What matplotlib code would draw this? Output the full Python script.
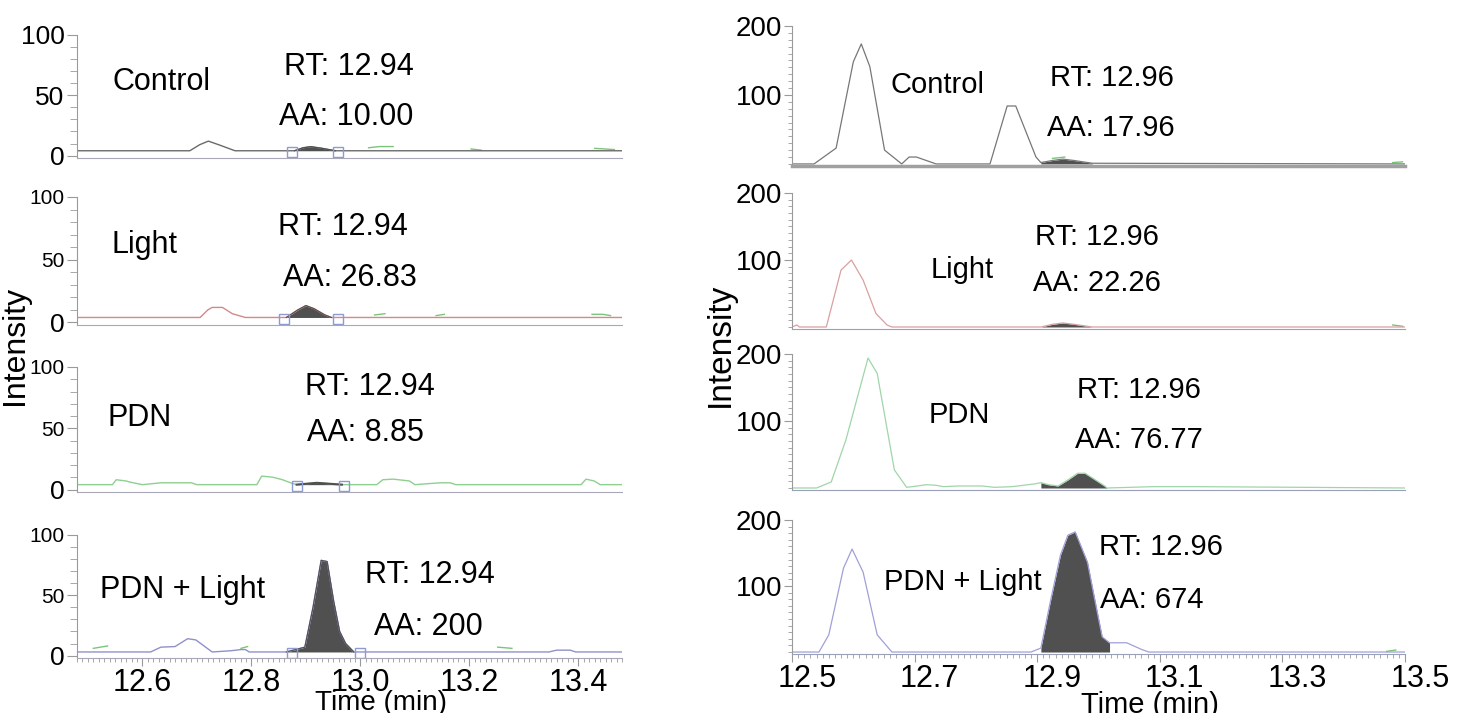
import numpy as np
import matplotlib.pyplot as plt
from matplotlib.ticker import MultipleLocator
from matplotlib.transforms import ScaledTranslation

W, H = 1463, 713
plt.rcParams['font.family'] = ['Liberation Sans', 'DejaVu Sans']
NARROW = ['Liberation Sans Narrow', 'Liberation Sans', 'DejaVu Sans']

samples = ['Control', 'Light', 'PDN', 'PDN + Light']
left_rt = ['RT: 12.94'] * 4
left_aa = ['AA: 10.00', 'AA: 26.83', 'AA: 8.85', 'AA: 200']
right_rt = ['RT: 12.96'] * 4
right_aa = ['AA: 17.96', 'AA: 22.26', 'AA: 76.77', 'AA: 674']

# ---- left chromatograms (scale 0-100) ----
l_ctrl_t = [12.48, 12.687, 12.705, 12.721, 12.74, 12.77, 12.879, 12.895, 12.909, 12.93, 12.954, 13.48]
l_ctrl_y = [4, 4, 9, 12, 9, 4, 4, 6.5, 7.4, 6, 4, 4]
l_light_t = [12.48, 12.706, 12.72, 12.728, 12.747, 12.765, 12.789, 12.864, 12.885, 12.9, 12.915,
             12.935, 12.947, 13.48]
l_light_y = [4, 4, 10, 12, 12, 7, 4, 4, 10, 13.5, 11, 6, 4, 4]
l_pdn_t = [12.48, 12.545, 12.552, 12.57, 12.578, 12.60, 12.634, 12.69, 12.70, 12.81, 12.819, 12.84,
           12.857, 12.875, 12.883, 12.92, 12.966, 13.03, 13.041, 13.06, 13.09, 13.10, 13.146, 13.165,
           13.175, 13.405, 13.414, 13.429, 13.44, 13.48]
l_pdn_y = [4, 4, 8, 7, 6, 4, 5.5, 5.5, 4, 4, 11, 10, 8, 5, 4, 5.5, 4, 4, 8, 8.5, 7, 4, 5.5, 5.5,
           4, 4, 8.5, 7, 4, 4]
l_both_t = [12.48, 12.615, 12.634, 12.66, 12.683, 12.698, 12.728, 12.762, 12.781, 12.789, 12.796,
            12.864, 12.898, 12.913, 12.928, 12.939, 12.951, 12.962, 12.973, 12.988, 13.346, 13.36,
            13.385, 13.395, 13.48]
l_both_y = [3, 3, 7, 7.5, 14, 13, 3, 4, 5, 5, 3, 3, 7, 40, 79, 78, 45, 20, 10, 3, 3, 4.5, 4.5, 3, 3]
l_base = [4, 4, 4, 3]
l_fill = [(12.879, 12.954), (12.864, 12.947), (12.883, 12.966), (12.864, 12.988)]
l_boxes = [[12.875, 12.958], [12.86, 12.958], [12.884, 12.969], [12.875, 13.0]]
l_green_t = [[[13.015, 13.035, 13.06], [13.203, 13.222], [13.43, 13.466]],
             [[13.026, 13.045], [13.139, 13.154], [13.425, 13.445, 13.459]],
             [],
             [[12.51, 12.536], [12.781, 12.793], [13.252, 13.278]]]
l_green_y = [[[6.5, 7.5, 7.5], [5.5, 4.5], [6, 5]],
             [[6, 7], [5.5, 6.5], [6.5, 6.5, 5.5]],
             [],
             [[6, 8], [6, 7.5], [7, 6]]]

# ---- right chromatograms (scale 0-200) ----
r_ctrl_t = [12.5, 12.536, 12.572, 12.6, 12.613, 12.627, 12.651, 12.679, 12.691, 12.703, 12.735,
            12.823, 12.851, 12.865, 12.898, 12.906, 12.925, 12.942, 12.96, 12.99, 13.5]
r_ctrl_y = [0, 0, 23, 148, 174, 141, 20, 0, 10, 10, 0, 0, 84, 84, 10, 2, 5, 7, 5, 1, 0]
r_light_t = [12.5, 12.508, 12.512, 12.556, 12.58, 12.588, 12.597, 12.616, 12.637, 12.655, 12.663,
             12.906, 12.925, 12.942, 12.96, 12.99, 13.5]
r_light_y = [0, 3, 0, 0, 85, 92, 100, 70, 20, 3, 0, 0, 4, 6, 4, 0, 0]
r_pdn_t = [12.5, 12.54, 12.564, 12.588, 12.624, 12.639, 12.667, 12.687, 12.705, 12.719, 12.735,
           12.747, 12.771, 12.81, 12.83, 12.859, 12.895, 12.906, 12.918, 12.934, 12.95, 12.966,
           12.978, 12.995, 13.01, 13.014, 13.09, 13.161, 13.5]
r_pdn_y = [0, 0, 9, 72, 194, 171, 27, 1, 3, 5, 4, 2, 3, 3, 1, 2, 6, 8, 5, 3, 12, 22, 22, 12, 3, 0,
           2, 2, 0]
r_both_t = [12.5, 12.544, 12.56, 12.584, 12.598, 12.616, 12.639, 12.663, 12.89, 12.906, 12.922,
            12.938, 12.95, 12.962, 12.982, 12.994, 13.006, 13.018, 13.03, 13.046, 13.07, 13.082, 13.5]
r_both_y = [0, 0, 26, 127, 156, 121, 26, 0, 0, 6, 79, 147, 177, 182, 136, 79, 23, 14, 14, 14, 4, 0, 0]
r_fill = [(12.906, 12.99), (12.906, 12.99), (12.906, 13.014), (12.906, 13.018)]
r_green_t = [[[12.925, 12.945], [13.48, 13.496]], [[13.48, 13.496]], [], [[13.47, 13.485]]]
r_green_y = [[[8, 10], [2, 3]], [[3, 1]], [], [[1, 3]]]

left_traces = [(l_ctrl_t, l_ctrl_y), (l_light_t, l_light_y), (l_pdn_t, l_pdn_y), (l_both_t, l_both_y)]
right_traces = [(r_ctrl_t, r_ctrl_y), (r_light_t, r_light_y), (r_pdn_t, r_pdn_y), (r_both_t, r_both_y)]
left_colors = ['#6a6a6a', '#d08a8a', '#8fcf8f', '#9090cc']
right_colors = ['#777777', '#d9a0a0', '#9fd6a8', '#a0a0d8']
fill_color = '#505050'
green = '#7cc47c'

# layout in pixels
left_x = (77, 622)
left_rows = [(35, 158), (197, 325), (367, 492), (535, 658)]
right_x = (792, 1405)
right_rows = [(26, 166), (193, 329), (354, 490), (520, 654)]
left_name_xy = [(162, 82), (145, 245), (140, 418), (183, 590)]
left_rt_xy = [(349, 67), (343, 227), (370, 387), (430, 575)]
left_aa_xy = [(346, 117), (350, 278), (365, 433), (428, 627)]
right_name_xy = [(938, 85), (962, 270), (959, 415), (963, 582)]
right_rt_xy = [(1112, 78), (1097, 237), (1139, 390), (1161, 547)]
right_aa_xy = [(1111, 128), (1097, 283), (1139, 440), (1152, 600)]

fig = plt.figure(figsize=(W / 100, H / 100), dpi=100)


def px_axes(xs, ys):
    return fig.add_axes([xs[0] / W, 1 - ys[1] / H, (xs[1] - xs[0]) / W, (ys[1] - ys[0]) / H])


def px_text(xy, s, **kw):
    fig.text(xy[0] / W, 1 - xy[1] / H, s, ha='center', va='center', **kw)


def style_axes(ax, spine_col):
    for s in ['top', 'right']:
        ax.spines[s].set_visible(False)
    ax.spines['left'].set_color('#9a9a9a')
    ax.spines['bottom'].set_color(spine_col)
    ax.tick_params(axis='both', which='both', direction='out', colors='#9a9a9a', labelcolor='black')


# ---- left column ----
for i in range(4):
    ax = px_axes(left_x, left_rows[i])
    t, y = np.array(left_traces[i][0]), np.array(left_traces[i][1])
    for gt, gy in zip(l_green_t[i], l_green_y[i]):
        ax.plot(gt, gy, color=green, lw=1)
    ax.plot(t, y, color=left_colors[i], lw=1)
    a, b = l_fill[i]
    m = (t >= a) & (t <= b)
    ax.fill_between(t[m], l_base[i], y[m], color=fill_color, lw=0)
    ax.plot(t[m], y[m], color=fill_color, lw=1.5 if i == 2 else 0.8)
    ax.plot(l_boxes[i], [l_base[i] - 1] * 2, 's', ms=7, mfc='none', mec='#8c9ad6', mew=1)
    ax.set_xlim(12.48, 13.48)
    ax.set_ylim(-2, 100)
    style_axes(ax, '#a8a8b8')
    ax.yaxis.set_minor_locator(MultipleLocator(10))
    ax.tick_params(axis='y', which='major', length=7, pad=2)
    ax.tick_params(axis='y', which='minor', length=5)
    ax.set_yticks([0, 50, 100])
    ax.set_yticklabels(['0', '50', '100'])
    for lab in ax.get_yticklabels():
        if i == 0 or lab.get_text() == '0':
            lab.set_fontsize(19)
        else:
            lab.set_fontsize(15)
            lab.set_fontfamily(NARROW)
    if i < 3:
        ax.tick_params(axis='x', which='both', bottom=False, labelbottom=False)
    else:
        ax.set_xticks([12.6, 12.8, 13.0, 13.2, 13.4])
        ax.set_xticklabels(['12.6', '12.8', '13.0', '13.2', '13.4'], fontsize=22)
        ax.xaxis.set_minor_locator(MultipleLocator(0.01))
        ax.tick_params(axis='x', which='major', length=6, pad=1)
        ax.tick_params(axis='x', which='minor', length=3)
    px_text(left_name_xy[i], samples[i], fontsize=22)
    px_text(left_rt_xy[i], left_rt[i], fontsize=22)
    px_text(left_aa_xy[i], left_aa[i], fontsize=22)

# ---- right column ----
shift = ScaledTranslation(15 / 100, 0, fig.dpi_scale_trans)
for i in range(4):
    ax = px_axes(right_x, right_rows[i])
    t, y = np.array(right_traces[i][0]), np.array(right_traces[i][1])
    for gt, gy in zip(r_green_t[i], r_green_y[i]):
        ax.plot(gt, gy, color=green, lw=1)
    ax.plot(t, y, color=right_colors[i], lw=0.9)
    a, b = r_fill[i]
    m = (t >= a) & (t <= b)
    ax.fill_between(t[m], 0, y[m], color=fill_color, lw=0)
    ax.set_xlim(12.5, 13.5)
    ax.set_ylim(-3, 200)
    style_axes(ax, '#9aa0b8')
    if i == 0:
        ax.spines['bottom'].set_linewidth(2.5)
        ax.spines['bottom'].set_color('#a0a0a0')
    ax.set_yticks([100, 200])
    ax.set_yticklabels(['100', '200'], fontsize=20, fontfamily=NARROW)
    ax.yaxis.set_minor_locator(MultipleLocator(10))
    ax.tick_params(axis='y', which='major', length=6, pad=1)
    ax.tick_params(axis='y', which='minor', length=3)
    if i < 3:
        ax.tick_params(axis='x', which='both', bottom=False, labelbottom=False)
    else:
        ticks = [12.5, 12.7, 12.9, 13.1, 13.3, 13.5]
        ax.set_xticks(ticks)
        ax.set_xticklabels([f'{v:.1f}' for v in ticks], fontsize=22, fontfamily=NARROW)
        ax.xaxis.set_minor_locator(MultipleLocator(0.01))
        ax.tick_params(axis='x', which='major', length=6, pad=1)
        ax.tick_params(axis='x', which='minor', length=3)
        for lab in ax.get_xticklabels():
            lab.set_transform(lab.get_transform() + shift)
    px_text(right_name_xy[i], samples[i], fontsize=21, family=NARROW)
    px_text(right_rt_xy[i], right_rt[i], fontsize=21, family=NARROW)
    px_text(right_aa_xy[i], right_aa[i], fontsize=21, family=NARROW)

# axis titles
px_text((15, 345), 'Intensity', fontsize=23, rotation=90)
px_text((720, 345), 'Intensity', fontsize=24, rotation=90)
fig.text(381 / W, 1 - 690 / H, 'Time (min)', ha='center', va='top', fontsize=20)
fig.text(1150 / W, 1 - 691 / H, 'Time (min)', ha='center', va='top', fontsize=21, family=NARROW)

fig.savefig('out.png', dpi=100, facecolor='white')
